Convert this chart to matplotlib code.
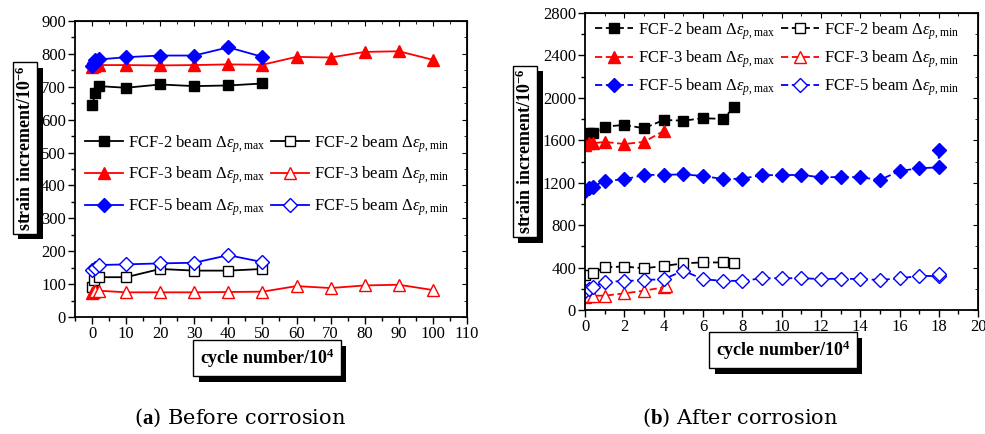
import numpy as np
import matplotlib
matplotlib.use('Agg')
import matplotlib.pyplot as plt
import matplotlib.patheffects as pe
from matplotlib.ticker import MultipleLocator

plt.rcParams['font.family'] = ['Liberation Serif', 'DejaVu Serif']
plt.rcParams['mathtext.fontset'] = 'custom'
plt.rcParams['mathtext.rm'] = 'Liberation Serif'
plt.rcParams['mathtext.it'] = 'Liberation Serif:italic'
plt.rcParams['mathtext.bf'] = 'Liberation Serif:bold'

# (a) before corrosion
a2_max_x = [0, 1, 2, 10, 20, 30, 40, 50]
a2_max_y = [645, 680, 702, 697, 707, 702, 704, 710]
a3_max_x = [0, 0.5, 1, 2, 10, 20, 30, 40, 50, 60, 70, 80, 90, 100]
a3_max_y = [760, 763, 765, 766, 766, 765, 766, 768, 767, 791, 789, 806, 808, 782]
a5_max_x = [0, 0.5, 1, 2, 10, 20, 30, 40, 50]
a5_max_y = [762, 772, 780, 783, 790, 795, 795, 820, 791]
a2_min_x = [0, 0.5, 2, 10, 20, 30, 40, 50]
a2_min_y = [91, 112, 121, 121, 146, 141, 141, 146]
a3_min_x = [0, 0.3, 0.6, 1, 2, 10, 20, 30, 40, 50, 60, 70, 80, 90, 100]
a3_min_y = [72, 75, 78, 80, 80, 75, 75, 75, 76, 77, 94, 88, 96, 98, 82]
a5_min_x = [0, 1, 2, 10, 20, 30, 40, 50]
a5_min_y = [142, 150, 158, 160, 163, 165, 188, 167]

# (b) after corrosion
b2_max_x = [0, 0.2, 0.4, 1, 2, 3, 4, 5, 6, 7, 7.6]
b2_max_y = [1620, 1672, 1666, 1729, 1745, 1713, 1792, 1785, 1808, 1802, 1911]
b3_max_x = [0, 0.2, 0.4, 1, 2, 3, 4]
b3_max_y = [1560, 1575, 1572, 1585, 1565, 1585, 1688]
b5_max_x = [0, 0.2, 0.4, 1, 2, 3, 4, 5, 6, 7, 8, 9, 10, 11, 12, 13, 14, 15, 16, 17, 18, 18]
b5_max_y = [1125, 1150, 1163, 1217, 1232, 1273, 1275, 1278, 1264, 1235, 1238, 1273, 1270, 1275,
            1250, 1255, 1252, 1226, 1311, 1336, 1345, 1509]
b2_min_x = [0, 0.4, 1, 2, 3, 4, 5, 6, 7, 7.6]
b2_min_y = [330, 345, 403, 410, 393, 415, 440, 449, 448, 440]
b3_min_x = [0, 0.2, 0.4, 1, 2, 3, 4, 4.1]
b3_min_y = [126, 130, 135, 135, 157, 182, 214, 225]
b5_min_x = [0, 0.2, 0.4, 1, 2, 3, 4, 5, 6, 7, 8, 9, 10, 11, 12, 13, 14, 15, 16, 17, 18, 18]
b5_min_y = [182, 200, 214, 267, 272, 283, 290, 371, 290, 275, 275, 299, 300, 300,
            292, 295, 292, 283, 299, 321, 320, 335]

labels = [r'FCF-2 beam $\Delta\mathit{\varepsilon}_{p,\mathrm{max}}$',
          r'FCF-3 beam $\Delta\mathit{\varepsilon}_{p,\mathrm{max}}$',
          r'FCF-5 beam $\Delta\mathit{\varepsilon}_{p,\mathrm{max}}$',
          r'FCF-2 beam $\Delta\mathit{\varepsilon}_{p,\mathrm{min}}$',
          r'FCF-3 beam $\Delta\mathit{\varepsilon}_{p,\mathrm{min}}$',
          r'FCF-5 beam $\Delta\mathit{\varepsilon}_{p,\mathrm{min}}$']
colors = ['black', 'red', 'blue', 'black', 'red', 'blue']
markers = ['s', '^', 'D', 's', '^', 'D']
msizes = [7, 9, 7, 7, 9, 7]
filled = [True, True, True, False, False, False]


def draw_series(ax, series, dashed):
    for i, (x, y) in enumerate(series):
        ls = (0, (4, 2)) if dashed else '-'
        ax.plot(x, y, linestyle=ls, color=colors[i], lw=1.3, marker=markers[i],
                ms=msizes[i], mec=colors[i], mew=1.0,
                mfc=colors[i] if filled[i] else 'white', label=labels[i])


def style_axis(ax):
    ax.tick_params(which='both', labelsize=12, width=1, pad=1.5)
    ax.tick_params(which='major', length=5)
    ax.tick_params(which='minor', length=3)
    ax.tick_params(axis='both', which='both', direction='out')
    for s in ax.spines.values():
        s.set_linewidth(1.3)
    sec_x = ax.secondary_xaxis('top')
    sec_x.tick_params(which='both', direction='in', labeltop=False)
    sec_x.set_xticks(ax.get_xticks())
    sec_x.xaxis.set_minor_locator(ax.xaxis.get_minor_locator())
    sec_x.set_xticklabels([])
    sec_y = ax.secondary_yaxis('right')
    sec_y.tick_params(which='both', direction='in')
    sec_y.set_yticks(ax.get_yticks())
    sec_y.yaxis.set_minor_locator(ax.yaxis.get_minor_locator())
    sec_y.set_yticklabels([])


def boxed_label(fig, x, y, text, rot, size=13, pad=0.35):
    t = fig.text(x, y, text, rotation=rot, ha='center', va='center', fontsize=size,
                 fontweight='bold', zorder=0,
                 bbox=dict(boxstyle='square,pad=%s' % pad, fc='white', ec='black', lw=1))
    t.get_bbox_patch().set_path_effects([
        pe.SimplePatchShadow(offset=(4, -4), shadow_rgbFace='black', alpha=1.0),
        pe.Normal()])


fig = plt.figure(figsize=(9.85, 4.34), dpi=100)

ax1 = fig.add_axes([0.0761, 0.2696, 0.398, 0.682])
draw_series(ax1, [(a2_max_x, a2_max_y), (a3_max_x, a3_max_y), (a5_max_x, a5_max_y),
                  (a2_min_x, a2_min_y), (a3_min_x, a3_min_y), (a5_min_x, a5_min_y)], False)
ax1.set_xlim(-5, 110)
ax1.set_ylim(0, 900)
ax1.set_xticks(np.arange(0, 111, 10))
ax1.set_yticks(np.arange(0, 901, 100))
ax1.xaxis.set_minor_locator(MultipleLocator(5))
ax1.yaxis.set_minor_locator(MultipleLocator(50))
style_axis(ax1)
ax1.legend(ncol=2, loc='upper left', bbox_to_anchor=(0.0, 0.655), frameon=False,
           fontsize=12, handlelength=2.3, handletextpad=0.3, columnspacing=0.3,
           labelspacing=0.6, borderaxespad=0.2)

ax2 = fig.add_axes([0.594, 0.2857, 0.399, 0.6843])
draw_series(ax2, [(b2_max_x, b2_max_y), (b3_max_x, b3_max_y), (b5_max_x, b5_max_y),
                  (b2_min_x, b2_min_y), (b3_min_x, b3_min_y), (b5_min_x, b5_min_y)], True)
ax2.set_xlim(0, 20)
ax2.set_ylim(0, 2800)
ax2.set_xticks(np.arange(0, 21, 2))
ax2.set_yticks(np.arange(0, 2801, 400))
ax2.xaxis.set_minor_locator(MultipleLocator(1))
ax2.yaxis.set_minor_locator(MultipleLocator(200))
style_axis(ax2)
ax2.legend(ncol=2, loc='upper left', bbox_to_anchor=(0.0, 1.01), frameon=False,
           fontsize=12, handlelength=2.3, handletextpad=0.3, columnspacing=0.3,
           labelspacing=0.4, borderaxespad=0.2)

boxed_label(fig, 0.0254, 0.659, r'strain increment/10$^{\mathbf{-6}}$', 90, 13, 0.15)
boxed_label(fig, 0.533, 0.651, r'strain increment/10$^{\mathbf{-6}}$', 90, 13, 0.15)
boxed_label(fig, 0.271, 0.175, r'cycle number/10$^{\mathbf{4}}$', 0)
boxed_label(fig, 0.795, 0.193, r'cycle number/10$^{\mathbf{4}}$', 0)

fig.text(0.244, 0.037, r'($\mathbf{a}$) Before corrosion', ha='center', va='center',
         fontsize=15, family=['DejaVu Serif'])
fig.text(0.751, 0.037, r'($\mathbf{b}$) After corrosion', ha='center', va='center',
         fontsize=15, family=['DejaVu Serif'])

fig.savefig('out.png', dpi=100)
